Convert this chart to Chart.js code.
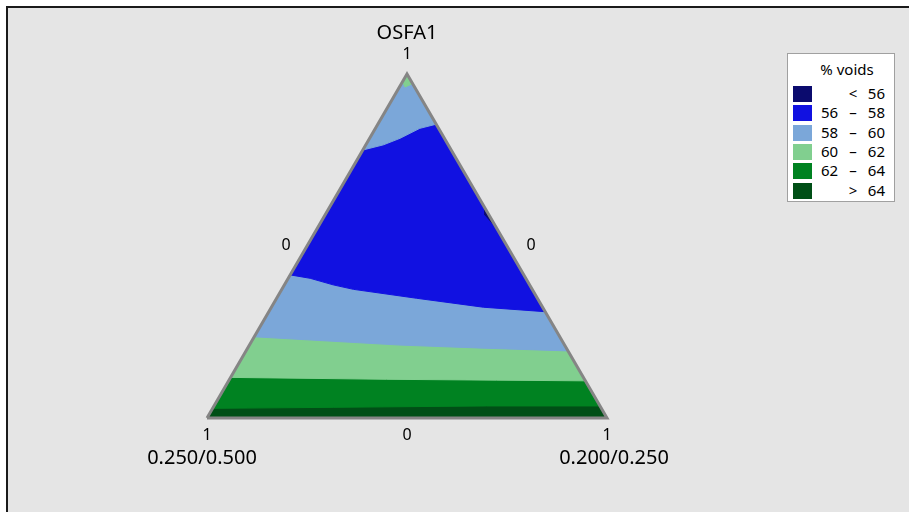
<!DOCTYPE html>
<html>
<head>
<meta charset="utf-8">
<script src="https://cdn.jsdelivr.net/npm/chart.js@4/dist/chart.umd.min.js"></script>
<style>
  html, body { margin: 0; padding: 0; background: #ffffff; }
  #frame {
    position: absolute; left: 6px; top: 6px; width: 901px; height: 506px;
    background: #e5e5e5; border-left: 2px solid #1a1a1a; border-top: 2px solid #1a1a1a;
    border-right: 1px solid #f0f0f0;
  }
  #plot { position: absolute; left: 0; top: 0; }
  #legend {
    position: absolute; left: 787px; top: 53px; width: 106px; height: 147px;
    background: #ffffff; border: 1px solid #a0a0a0;
    font-family: "Noto Sans", "Open Sans", sans-serif; font-size: 15px; color: #000;
  }
  #legend .ttl { position: absolute; left: 0; width: 100%; top: 5px; text-align: center; padding-left: 12px; box-sizing: border-box; }
  #legend .row { position: absolute; left: 0; width: 100%; height: 19px; line-height: 19px; }
  #legend .sw { position: absolute; left: 5px; top: 2px; width: 19px; height: 16px; }
  #legend .lo { position: absolute; left: 33px; }
  #legend .mid { position: absolute; left: 57px; width: 16px; text-align: center; }
  #legend .hi { position: absolute; right: 9px; }
</style>
</head>
<body>
<div id="frame"></div>
<canvas id="plot" width="909" height="512"></canvas>
<div id="legend"></div>
<script>
// % voids contour bands
const bandNames = ["< 56", "56 – 58", "58 – 60", "60 – 62", "62 – 64", "> 64"];
const bandColors = ["#0b0b6e", "#1111e1", "#7ba7d9", "#81cf8f", "#008221", "#004f16"];

// components
const topName = "OSFA1";
const leftName = "0.250/0.500";
const rightName = "0.200/0.250";
const cornerTicks = ["1", "1", "1"];     // top, left, right
const sideTicks = ["0", "0", "0"];       // left side, right side, bottom

// contour lines as [OSFA1, 0.200/0.250] fractions (0.250/0.500 is the rest)
const edge64 = [[0.028, 0], [0.031, 0.30], [0.035, 0.682], [0.035, 0.965]];
const edge62 = [[0.118, 0], [0.1125, 0.393], [0.110, 0.669], [0.108, 0.892]];
const edge60 = [[0.236, 0], [0.212, 0.376], [0.203, 0.589], [0.195, 0.805]];
const edge58 = [[0.416, 0], [0.406, 0.055], [0.387, 0.122], [0.374, 0.179], [0.348, 0.350], [0.322, 0.530], [0.309, 0.691]];
const edge58top = [[0.779, 0], [0.794, 0.044], [0.813, 0.076], [0.842, 0.111], [0.854, 0.146]];
const edge60tip = [[0.978, 0], [0.962, 0.014], [0.972, 0.028]];
const pocket56 = [[0.613, 0.387], [0.59, 0.40], [0.552, 0.448]];

const apex = [1, 0];
const cornerL = [0, 0];
const cornerR = [0, 1];

// ternary -> cartesian
const toXY = (p) => ({ x: p[1] + p[0] / 2, y: p[0] });

function region(points, color, order) {
    return {
        data: points.map(toXY),
        showLine: true,
        fill: "shape",
        backgroundColor: color,
        borderColor: color,
        borderWidth: 1,
        pointRadius: 0,
        tension: 0,
        order: order
    };
}

const datasets = [
    {
        data: [cornerL, cornerR, apex, cornerL].map(toXY),
        showLine: true,
        fill: false,
        borderColor: "#858585",
        borderWidth: 3,
        borderJoinStyle: "miter",
        pointRadius: 0,
        order: 0
    },
    region(pocket56.concat([pocket56[0]]), bandColors[0], 1),
    region(edge60tip.concat([apex]), bandColors[3], 2),
    region(edge58top.concat([apex]), bandColors[2], 3),
    region(edge58.concat([apex]), bandColors[1], 4),
    region(edge60.concat([apex]), bandColors[2], 5),
    region(edge62.concat([apex]), bandColors[3], 6),
    region(edge64.concat([apex]), bandColors[4], 7),
    region([cornerL, cornerR, apex], bandColors[5], 8)
];

const labelsPlugin = {
    id: "ternaryLabels",
    afterDraw(chart) {
        const { ctx, scales: { x, y } } = chart;
        const px = (p) => { const q = toXY(p); return [x.getPixelForValue(q.x), y.getPixelForValue(q.y)]; };
        const [ax, ay] = px(apex);
        const [lx, ly] = px(cornerL);
        const [rx, ry] = px(cornerR);
        ctx.save();
        ctx.fillStyle = "#000000";
        ctx.textAlign = "center";
        ctx.textBaseline = "middle";
        ctx.font = '20px "Noto Sans", sans-serif';
        ctx.fillText(topName, ax, ay - 41);
        ctx.fillText(leftName, lx - 5, ly + 40);
        ctx.fillText(rightName, rx + 7, ry + 40);
        ctx.font = '16px "Noto Sans", sans-serif';
        ctx.fillText(cornerTicks[0], ax, ay - 20);
        ctx.fillText(cornerTicks[1], lx, ly + 17);
        ctx.fillText(cornerTicks[2], rx, ry + 17);
        ctx.fillText(sideTicks[0], (ax + lx) / 2 - 21, (ay + ly) / 2 - 1);
        ctx.fillText(sideTicks[1], (ax + rx) / 2 + 24, (ay + ry) / 2 - 1);
        ctx.fillText(sideTicks[2], (lx + rx) / 2, ly + 17);
        ctx.restore();
    }
};

new Chart(document.getElementById("plot"), {
    type: "scatter",
    data: { datasets: datasets },
    options: {
        responsive: false,
        animation: false,
        layout: { padding: 0 },
        scales: {
            x: { type: "linear", display: false, min: -0.5175, max: 1.755 },
            y: { type: "linear", display: false, min: -0.2733, max: 1.2151 }
        },
        plugins: { legend: { display: false }, tooltip: { enabled: false } }
    },
    plugins: [labelsPlugin]
});

// legend box
const legendEl = document.getElementById("legend");
let html = '<div class="ttl">% voids</div>';
bandNames.forEach((name, i) => {
    const parts = name.split(" ");
    const top = 30 + i * 19.3;
    let cells;
    if (parts.length === 2) {
        cells = `<span class="mid">${parts[0]}</span><span class="hi">${parts[1]}</span>`;
    } else {
        cells = `<span class="lo">${parts[0]}</span><span class="mid">${parts[1]}</span><span class="hi">${parts[2]}</span>`;
    }
    html += `<div class="row" style="top:${top}px"><div class="sw" style="background:${bandColors[i]}"></div>${cells}</div>`;
});
legendEl.innerHTML = html;
</script>
</body>
</html>
